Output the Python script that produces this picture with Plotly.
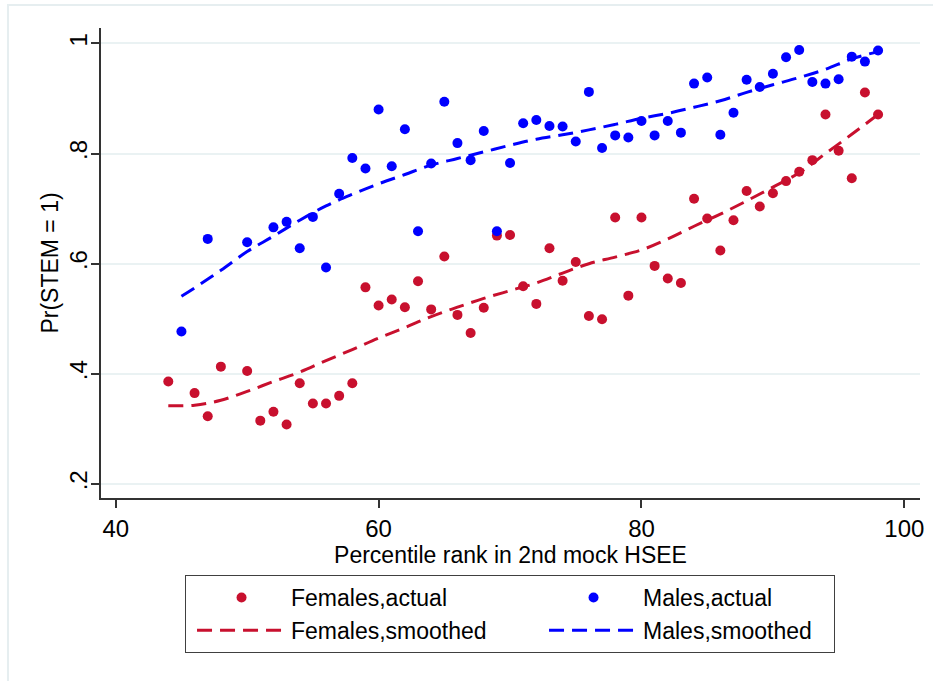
import plotly.graph_objects as go

# Females: percentile rank and share choosing STEM
fem_x = [44, 46, 47, 48, 50, 51, 52, 53, 54, 55, 56, 57, 58, 59, 60, 61, 62, 63, 64,
         65, 66, 67, 68, 69, 70, 71, 72, 73, 74, 75, 76, 77, 78, 79, 80, 81, 82, 83,
         84, 85, 86, 87, 88, 89, 90, 91, 92, 93, 94, 95, 96, 97, 98]
fem_y = [0.386, 0.365, 0.323, 0.413, 0.405, 0.315, 0.331, 0.308, 0.383, 0.346, 0.346,
         0.360, 0.383, 0.557, 0.524, 0.535, 0.521, 0.568, 0.517, 0.613, 0.507, 0.474,
         0.520, 0.651, 0.652, 0.559, 0.527, 0.628, 0.569, 0.603, 0.505, 0.499, 0.684,
         0.542, 0.684, 0.596, 0.573, 0.565, 0.718, 0.682, 0.624, 0.679, 0.732, 0.704,
         0.728, 0.750, 0.767, 0.788, 0.871, 0.805, 0.755, 0.911, 0.871]

# Males: percentile rank and share choosing STEM
male_x = [45, 47, 50, 52, 53, 54, 55, 56, 57, 58, 59, 60, 61, 62, 63, 64, 65, 66, 67,
          68, 69, 70, 71, 72, 73, 74, 75, 76, 77, 78, 79, 80, 81, 82, 83, 84, 85, 86,
          87, 88, 89, 90, 91, 92, 93, 94, 95, 96, 97, 98]
male_y = [0.477, 0.645, 0.639, 0.666, 0.676, 0.628, 0.685, 0.593, 0.727, 0.792, 0.773,
          0.880, 0.777, 0.844, 0.659, 0.782, 0.894, 0.819, 0.788, 0.841, 0.659, 0.783,
          0.855, 0.861, 0.850, 0.849, 0.822, 0.912, 0.810, 0.833, 0.829, 0.859, 0.833,
          0.859, 0.838, 0.927, 0.938, 0.834, 0.874, 0.934, 0.921, 0.945, 0.975, 0.988,
          0.930, 0.927, 0.935, 0.976, 0.967, 0.987]

# Smoothed curves
fem_s_x = [44, 46, 48, 50, 52, 54, 56, 58, 60, 62, 64, 66, 68, 70, 72, 74, 76, 78, 80,
           82, 84, 86, 88, 90, 92, 94, 96, 98]
fem_s_y = [0.342, 0.343, 0.352, 0.368, 0.386, 0.403, 0.424, 0.444, 0.465, 0.484, 0.504,
           0.521, 0.537, 0.551, 0.565, 0.583, 0.600, 0.612, 0.625, 0.645, 0.668, 0.690,
           0.714, 0.739, 0.765, 0.800, 0.835, 0.871]
male_s_x = [45, 46, 48, 50, 52, 54, 56, 58, 60, 62, 64, 66, 68, 70, 72, 74, 76, 78, 80,
            82, 84, 86, 88, 90, 92, 94, 96, 98]
male_s_y = [0.541, 0.556, 0.588, 0.622, 0.650, 0.679, 0.705, 0.726, 0.745, 0.762, 0.779,
            0.791, 0.803, 0.815, 0.826, 0.834, 0.843, 0.853, 0.864, 0.873, 0.884, 0.896,
            0.911, 0.925, 0.938, 0.953, 0.972, 0.985]

y_ticks = [0.2, 0.4, 0.6, 0.8, 1.0]
y_tick_text = [".2", ".4", ".6", ".8", "1"]
x_ticks = [40, 60, 80, 100]

RED = "#C8102E"
BLUE = "#0000FF"
FONT = "Liberation Sans, Arial, sans-serif"

fig = go.Figure()
fig.add_trace(go.Scatter(x=fem_x, y=fem_y, mode="markers", name="Females,actual",
                         marker=dict(color=RED, size=10)))
fig.add_trace(go.Scatter(x=male_x, y=male_y, mode="markers", name="Males,actual",
                         marker=dict(color=BLUE, size=10), legendwidth=186))
fig.add_trace(go.Scatter(x=fem_s_x, y=fem_s_y, mode="lines", name="Females,smoothed",
                         line=dict(color=RED, width=3, dash="15px,8px", shape="spline")))
fig.add_trace(go.Scatter(x=male_s_x, y=male_s_y, mode="lines", name="Males,smoothed",
                         line=dict(color=BLUE, width=3, dash="15px,8px", shape="spline"),
                         legendwidth=186))

# light outer frame around the graph region
fig.add_shape(type="rect", xref="paper", yref="paper", x0=-0.1136, x1=1.2,
              y0=-0.6, y1=1.049, line=dict(color="#E6EEF0", width=2), layer="below")

fig.update_layout(
    width=933, height=681,
    margin=dict(l=101, r=13, t=28, b=183, autoexpand=False),
    paper_bgcolor="white", plot_bgcolor="white",
    font=dict(family=FONT, color="black", size=23),
    showlegend=True,
    legend=dict(
        orientation="h", x=0.1026, y=-0.1638, xanchor="left", yanchor="top",
        bordercolor="#404040", borderwidth=1, bgcolor="white",
        font=dict(size=23, family=FONT), entrywidth=242, itemwidth=89,
        indentation=6, tracegroupgap=0,
    ),
    xaxis=dict(
        range=[38.88, 101.19], tickvals=x_ticks, showgrid=False, zeroline=False,
        showline=True, linecolor="#333333", linewidth=1.5,
        ticks="outside", ticklen=8, tickcolor="#333333", tickwidth=1.5,
        tickfont=dict(size=24, family=FONT, color="black"),
        title=dict(text="Percentile rank in 2nd mock HSEE", font=dict(size=23), standoff=3),
    ),
    yaxis=dict(
        range=[0.1745, 1.028], tickvals=y_ticks, ticktext=y_tick_text, tickangle=-90,
        showgrid=True, gridcolor="#EAF2F3", gridwidth=1.5, zeroline=False,
        showline=True, linecolor="#333333", linewidth=1.5,
        ticks="outside", ticklen=8, tickcolor="#333333", tickwidth=1.5,
        tickfont=dict(size=24, family=FONT, color="black"), ticklabelstandoff=-5,
        title=dict(text="Pr(STEM = 1)", font=dict(size=23), standoff=0),
    ),
)

fig.write_html("out.html")
